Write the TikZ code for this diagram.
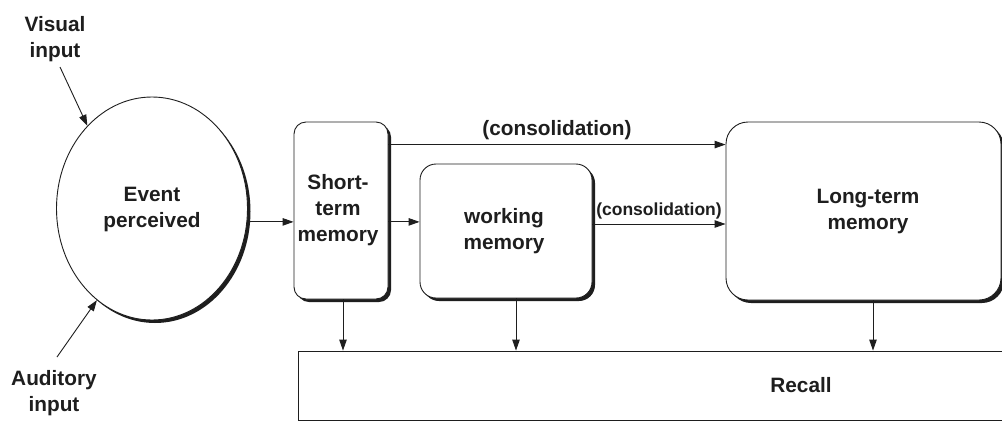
\documentclass[tikz,border=0pt]{standalone}
\usepackage{fontspec}
\setmainfont{Liberation Sans}
\usetikzlibrary{arrows.meta,shapes.geometric,shadows,calc}
\definecolor{ink}{HTML}{1E1E1E}
\begin{document}
\begin{tikzpicture}[x=1pt,y=-1pt,
  every node/.style={font=\bfseries\fontsize{20.8}{26}\selectfont, text=ink, align=center},
  shade3/.style={drop shadow={shadow xshift=3pt, shadow yshift=-3pt, fill=ink, opacity=1}},
  membox/.style={draw=ink, line width=0.9pt, fill=white, shade3, inner sep=0pt},
  arr/.style={draw=ink, line width=0.9pt, -{Triangle[length=11pt,width=7.5pt]}},
  smalllab/.style={font=\bfseries\fontsize{17.5}{21}\selectfont}
]
\useasboundingbox (0,0) rectangle (1002,424);
\fill[white] (0,0) rectangle (1002,424);
\begin{scope}
\clip (0,0) rectangle (1002,424);

% stores
\node[membox, ellipse, minimum width=191pt, minimum height=223pt] (ev) at (152,208.5) {};
\node at (152,209) {Event\\perceived};

\node[membox, rectangle, rounded corners=12pt, minimum width=94pt, minimum height=177pt] (stm) at (341,210.5) {};
\node at (338,210) {Short-\\term\\memory};

\node[membox, rectangle, rounded corners=16pt, minimum width=172pt, minimum height=134pt] (wm) at (506,231) {};
\node at (504,231) {working\\memory};

\node[membox, rectangle, rounded corners=22pt, minimum width=275pt, minimum height=178pt] (ltm) at (863.5,211) {};
\node at (868,211) {Long-term\\memory};

\node[draw=ink, line width=0.9pt, fill=white, rectangle, minimum width=712pt, minimum height=69pt, inner sep=0pt] (rc) at (654,385.5) {};
\node at (801,385) {Recall};

% input labels
\node (vis) at (55,39) {Visual\\input};
\node (aud) at (54,393) {Auditory\\input};
\coordinate (visstart) at (60,67);
\coordinate (audstart) at (57,357);

% connectors
\draw[arr] (visstart) -- (ev.128);
\draw[arr] (audstart) -- (ev.239);
\draw[arr] (ev.-8) -- (ev.-8 -| stm.west);
\draw[arr] (stm.east |- ev.-8) -- (wm.west |- ev.-8);
\coordinate (top) at ($(stm.north east)+(0,23)$);
\draw[arr] (top) -- (top -| ltm.west) node[midway, above=1pt] {(consolidation)};
\coordinate (mid) at ($(wm.east)+(0,-7)$);
\draw[arr] (mid) -- (mid -| ltm.west) node[midway, above=1pt, smalllab] {(consolidation)};
\draw[arr] ([xshift=2pt]stm.south) -- ([xshift=2pt]stm.south |- rc.north);
\draw[arr] ([xshift=10pt]wm.south) -- ([xshift=10pt]wm.south |- rc.north);
\draw[arr] ([xshift=9.5pt]ltm.south) -- ([xshift=9.5pt]ltm.south |- rc.north);
\end{scope}
\end{tikzpicture}
\end{document}
